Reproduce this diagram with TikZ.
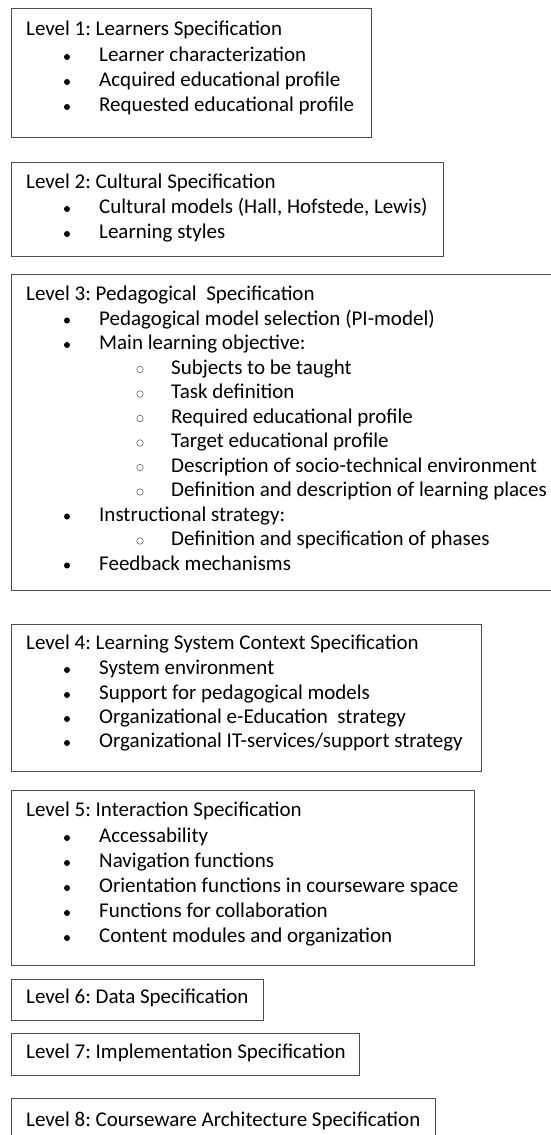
\documentclass[tikz,border=0pt]{standalone}
\usepackage{fontspec}
\setmainfont{Carlito}
\frenchspacing
\begin{document}
\begin{tikzpicture}[x=1pt,y=-1pt,
  box/.style={draw=black!70,line width=1.2pt,anchor=north west,inner sep=0pt},
  txt/.style={anchor=base west,inner sep=0pt,yshift=-4.8pt,font=\fontsize{21}{25}\selectfont},
  dotb/.style={circle,fill=black,inner sep=0pt,minimum size=6pt},
  circ/.style={circle,draw=black!60,line width=0.6pt,inner sep=0pt,minimum size=6.5pt}]
\newcommand\Lvl[3]{\node[txt] (#1) at (26,#2) {#3};}
\newcommand\Itm[3]{\node[dotb] (#1d) at (67,#2) {}; \node[txt] (#1) at (99,#2) {#3};}
\newcommand\Sbi[3]{\node[circ] (#1d) at (140,#2) {}; \node[txt] (#1) at (171,#2) {#3};}
\useasboundingbox (0,0) rectangle (551,1135);
\clip (0,0) rectangle (551,1135);
\fill[white] (0,0) rectangle (551,1135);
% boxes
\node[box,minimum width=360pt,minimum height=129pt] (b1) at (11,8) {};
\node[box,minimum width=432pt,minimum height=94pt] (b2) at (11,162) {};
\node[box,minimum width=560pt,minimum height=316pt] (b3) at (11,274) {};
\node[box,minimum width=470pt,minimum height=147pt] (b4) at (11,624) {};
\node[box,minimum width=463pt,minimum height=175pt] (b5) at (11,790) {};
\node[box,minimum width=252pt,minimum height=41pt] (b6) at (11,979) {};
\node[box,minimum width=348pt,minimum height=42pt] (b7) at (11,1033) {};
\node[box,minimum width=424pt,minimum height=60pt] (b8) at (11,1098) {};
% level 1
\Lvl{l1}{31}{Level 1: Learners Specification}
\Itm{l1a}{57}{Learner characterization}
\Itm{l1b}{82}{Acquired educational profile}
\Itm{l1c}{107}{Requested educational profile}
% level 2
\Lvl{l2}{184}{Level 2: Cultural Specification}
\Itm{l2a}{209}{Cultural models (Hall, Hofstede, Lewis)}
\Itm{l2b}{234}{Learning styles}
% level 3
\Lvl{l3}{296}{Level 3: Pedagogical\ \ Specification}
\Itm{l3a}{320.5}{Pedagogical model selection (PI-model)}
\Itm{l3b}{345}{Main learning objective:}
\Sbi{l3c}{369.5}{Subjects to be taught}
\Sbi{l3d}{394}{Task definition}
\Sbi{l3e}{418.5}{Required educational profile}
\Sbi{l3f}{443}{Target educational profile}
\Sbi{l3g}{467.5}{Description of socio-technical environment}
\Sbi{l3h}{492}{Definition and description of learning places}
\Itm{l3i}{516.5}{Instructional strategy:}
\Sbi{l3j}{541}{Definition and specification of phases}
\Itm{l3k}{565.5}{Feedback mechanisms}
% level 4
\Lvl{l4}{645}{Level 4: Learning System Context Specification}
\Itm{l4a}{670}{System environment}
\Itm{l4b}{695}{Support for pedagogical models}
\Itm{l4c}{719}{Organizational e-Education\ \ strategy}
\Itm{l4d}{743}{Organizational IT-services/support strategy}
% level 5
\Lvl{l5}{812}{Level 5: Interaction Specification}
\Itm{l5a}{838}{Accessability}
\Itm{l5b}{863}{Navigation functions}
\Itm{l5c}{888}{Orientation functions in courseware space}
\Itm{l5d}{913}{Functions for collaboration}
\Itm{l5e}{938}{Content modules and organization}
% levels 6-8
\Lvl{l6}{999}{Level 6: Data Specification}
\Lvl{l7}{1054}{Level 7: Implementation Specification}
\Lvl{l8}{1122}{Level 8: Courseware Architecture Specification}
\end{tikzpicture}
\end{document}
